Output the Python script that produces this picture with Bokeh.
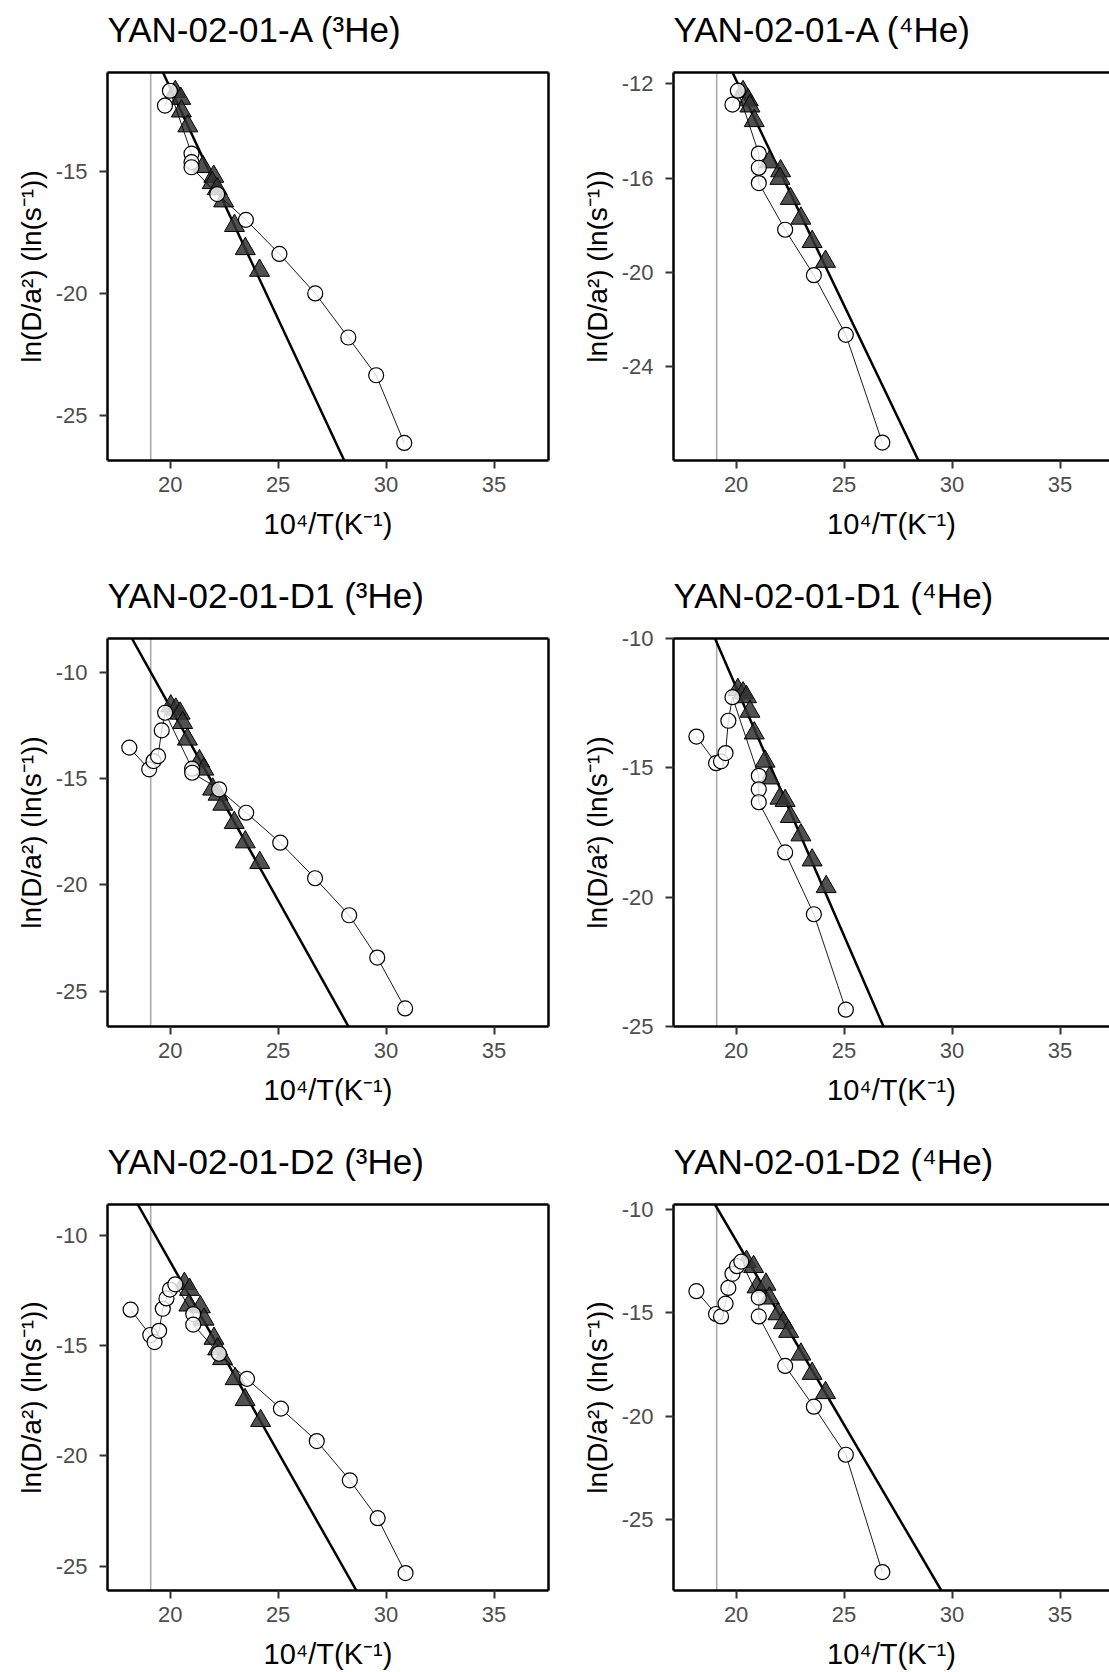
from bokeh.plotting import figure
from bokeh.models import Range1d, FixedTicker, LinearAxis, Span, Slope, ColumnDataSource
from bokeh.layouts import row, column
from bokeh.embed import file_html
from bokeh.resources import INLINE

# ---------------- data ----------------
titles = ["YAN-02-01-A (³He)", "YAN-02-01-A (⁴He)",
          "YAN-02-01-D1 (³He)", "YAN-02-01-D1 (⁴He)",
          "YAN-02-01-D2 (³He)", "YAN-02-01-D2 (⁴He)"]
x_label = "10⁴/T(K⁻¹)"
y_label = "ln(D/a²) (ln(s⁻¹))"
x_ticks = [20, 25, 30, 35]
cutoff_x = 19.1

# open circles (all steps, connected)
A3_steps_x = [19.76, 19.99, 20.99, 20.99, 20.99, 22.18, 23.51, 25.06, 26.72, 28.25, 29.54, 30.84]
A3_steps_y = [-12.29, -11.68, -14.26, -14.61, -14.82, -15.92, -16.98, -18.38, -20.0, -21.81, -23.36, -26.14]
A4_steps_x = [19.83, 20.08, 21.05, 21.05, 21.05, 22.27, 23.60, 25.08, 26.77]
A4_steps_y = [-12.88, -12.29, -14.96, -15.56, -16.21, -18.19, -20.12, -22.65, -27.22]
D13_steps_x = [18.11, 19.03, 19.23, 19.44, 19.61, 19.77, 21.02, 21.02, 22.27, 23.52, 25.10, 26.71, 28.29, 29.59, 30.88]
D13_steps_y = [-13.55, -14.57, -14.18, -13.95, -12.74, -11.91, -14.54, -14.73, -15.51, -16.61, -18.02, -19.69, -21.43, -23.42, -25.81]
D14_steps_x = [18.16, 19.07, 19.30, 19.51, 19.64, 19.83, 21.05, 21.05, 21.05, 22.27, 23.60, 25.08]
D14_steps_y = [-13.79, -14.82, -14.75, -14.43, -13.18, -12.27, -15.31, -15.83, -16.33, -18.27, -20.66, -24.35]
D23_steps_x = [18.17, 19.08, 19.28, 19.49, 19.66, 19.83, 19.99, 20.24, 21.07, 21.07, 22.26, 23.56, 25.13, 26.79, 28.32, 29.61, 30.90]
D23_steps_y = [-13.37, -14.52, -14.84, -14.33, -13.33, -12.86, -12.46, -12.22, -13.57, -14.05, -15.37, -16.51, -17.86, -19.33, -21.11, -22.83, -25.32]
D24_steps_x = [18.16, 19.07, 19.30, 19.51, 19.64, 19.83, 20.04, 20.24, 21.05, 21.05, 22.27, 23.60, 25.08, 26.77]
D24_steps_y = [-13.97, -15.07, -15.19, -14.57, -13.81, -13.13, -12.76, -12.54, -14.28, -15.19, -17.58, -19.55, -21.87, -27.54]

# filled triangles (steps used for the Arrhenius fit)
A3_fit_x = [20.24, 20.49, 20.52, 20.82, 21.52, 22.02, 21.95, 22.18, 22.48, 22.98, 23.48, 24.14]
A3_fit_y = [-11.72, -12.00, -12.52, -13.13, -14.80, -15.20, -15.46, -15.71, -16.21, -17.22, -18.17, -19.06]
A4_fit_x = [20.32, 20.56, 20.64, 20.84, 21.54, 22.06, 22.03, 22.51, 23.00, 23.52, 24.14]
A4_fit_y = [-12.34, -12.69, -12.95, -13.57, -15.32, -15.70, -16.02, -16.87, -17.71, -18.70, -19.54]
D13_fit_x = [20.03, 20.26, 20.46, 20.58, 20.80, 21.36, 21.56, 21.97, 22.22, 22.44, 22.97, 23.48, 24.15]
D13_fit_y = [-11.60, -11.75, -11.94, -12.38, -13.16, -14.18, -14.57, -15.51, -15.75, -16.22, -17.08, -17.99, -18.96]
D14_fit_x = [20.08, 20.32, 20.48, 20.64, 20.84, 21.34, 21.54, 22.03, 22.27, 22.51, 23.00, 23.52, 24.17]
D14_fit_y = [-11.98, -12.11, -12.26, -12.82, -13.66, -14.75, -15.40, -16.18, -16.27, -16.89, -17.60, -18.57, -19.60]
D23_fit_x = [20.66, 20.90, 20.87, 21.40, 21.57, 22.03, 22.20, 22.43, 23.01, 23.47, 24.19]
D23_fit_y = [-12.19, -12.46, -13.17, -13.25, -13.81, -14.68, -15.16, -15.60, -16.51, -17.46, -18.41]
D24_fit_x = [20.48, 20.81, 20.97, 21.38, 21.54, 21.94, 22.19, 22.43, 23.00, 23.52, 24.14]
D24_fit_y = [-12.54, -12.79, -13.77, -13.64, -14.31, -15.07, -15.50, -15.92, -17.02, -17.95, -18.88]

# Arrhenius regression lines
fit_gradient = [-1.898, -1.912, -1.819, -1.923, -1.730, -1.780]
fit_intercept = [26.40, 26.40, 24.74, 26.58, 23.41, 24.08]

# axis extents and ticks per panel
y_limits = [(-26.86, -10.93), (-27.98, -11.52), (-26.66, -8.42),
            (-25.0, -10.0), (-26.11, -8.60), (-28.43, -9.78)]
y_ticks = [[-25, -20, -15], [-24, -20, -16, -12], [-25, -20, -15, -10],
           [-25, -20, -15, -10], [-25, -20, -15, -10], [-25, -20, -15, -10]]
x_start = 17.1
x_end_left = 37.52
x_end_right = 37.29

steps_x = [A3_steps_x, A4_steps_x, D13_steps_x, D14_steps_x, D23_steps_x, D24_steps_x]
steps_y = [A3_steps_y, A4_steps_y, D13_steps_y, D14_steps_y, D23_steps_y, D24_steps_y]
fitpts_x = [A3_fit_x, A4_fit_x, D13_fit_x, D14_fit_x, D23_fit_x, D24_fit_x]
fitpts_y = [A3_fit_y, A4_fit_y, D13_fit_y, D14_fit_y, D23_fit_y, D24_fit_y]

FONT = "Liberation Sans"


def border_axis(spacer=False):
    ax = LinearAxis(ticker=FixedTicker(ticks=[]))
    ax.axis_line_color = "black"
    ax.axis_line_width = 2.5
    ax.major_tick_line_color = None
    ax.minor_tick_line_color = None
    ax.major_label_text_font_size = "0px"
    ax.major_label_standoff = 0
    if spacer:
        # blank axis label used only to lift the panel title above the frame
        ax.axis_label = " "
        ax.axis_label_text_font_size = "10px"
        ax.axis_label_standoff = 10
    return ax


def panel(i):
    left_col = (i % 2 == 0)
    last_row = (i >= 4)
    if left_col:
        w, mbl, mbr, xe = 558, 107, 10, x_end_left
    else:
        w, mbl, mbr, xe = 551, 115, 0, x_end_right
    h = 540 if last_row else 566
    mbb = 80 if last_row else 106
    ylo, yhi = y_limits[i]
    p = figure(width=w, height=h, output_backend="svg", toolbar_location=None,
               x_range=Range1d(x_start, xe), y_range=Range1d(ylo, yhi),
               min_border_left=mbl, min_border_right=mbr,
               min_border_top=72, min_border_bottom=mbb,
               x_axis_label=x_label, y_axis_label=y_label)
    p.outline_line_color = None
    p.grid.visible = False
    p.background_fill_color = "white"
    p.border_fill_color = "white"

    p.title.text = titles[i]
    p.title.text_font = FONT
    p.title.text_font_size = "35px"
    p.title.text_font_style = "normal"
    p.title.text_color = "black"
    p.title.align = "left"
    p.title.vertical_align = "bottom"
    p.title.standoff = 0

    for ax in (p.xaxis[0], p.yaxis[0]):
        ax.axis_line_color = "black"
        ax.axis_line_width = 2.5
        ax.major_tick_line_color = "#333333"
        ax.major_tick_line_width = 2
        ax.major_tick_in = 0
        ax.major_tick_out = 8
        ax.minor_tick_line_color = None
        ax.major_label_text_font = FONT
        ax.major_label_text_font_size = "22px"
        ax.major_label_text_color = "#4D4D4D"
        ax.axis_label_text_font = FONT
        ax.axis_label_text_font_style = "normal"
        ax.axis_label_text_color = "black"
    p.xaxis[0].axis_label_text_font_size = "29px"
    p.yaxis[0].axis_label_text_font_size = "28px"
    p.xaxis[0].ticker = FixedTicker(ticks=x_ticks)
    p.yaxis[0].ticker = FixedTicker(ticks=y_ticks[i])
    p.xaxis[0].major_label_overrides = {t: str(t) for t in x_ticks}
    p.yaxis[0].major_label_overrides = {t: str(t) for t in y_ticks[i]}
    p.xaxis[0].major_label_standoff = 8
    p.xaxis[0].axis_label_standoff = 13
    p.yaxis[0].major_label_standoff = 12
    p.yaxis[0].axis_label_standoff = 6

    p.add_layout(border_axis(spacer=True), "above")
    if left_col:
        p.add_layout(border_axis(), "right")

    p.add_layout(Span(location=cutoff_x, dimension="height",
                      line_color="#ABABAB", line_width=1.6, level="underlay"))
    p.add_layout(Slope(gradient=fit_gradient[i], y_intercept=fit_intercept[i],
                       line_color="black", line_width=2.5, level="underlay"))

    src_fit = ColumnDataSource(dict(x=fitpts_x[i], y=fitpts_y[i]))
    p.scatter("x", "y", source=src_fit, marker="triangle", size=20,
              fill_color="#333333", fill_alpha=0.85, line_color="black", line_width=1)

    src_steps = ColumnDataSource(dict(x=steps_x[i], y=steps_y[i]))
    p.line("x", "y", source=src_steps, line_color="black", line_width=0.9)
    p.scatter("x", "y", source=src_steps, marker="circle", size=15,
              fill_color="white", fill_alpha=0.8, line_color="black", line_width=1.2)
    return p


panels = [panel(i) for i in range(6)]
layout = column(row(panels[0], panels[1]), row(panels[2], panels[3]), row(panels[4], panels[5]))

open("out.html", "w").write(file_html(layout, INLINE))
